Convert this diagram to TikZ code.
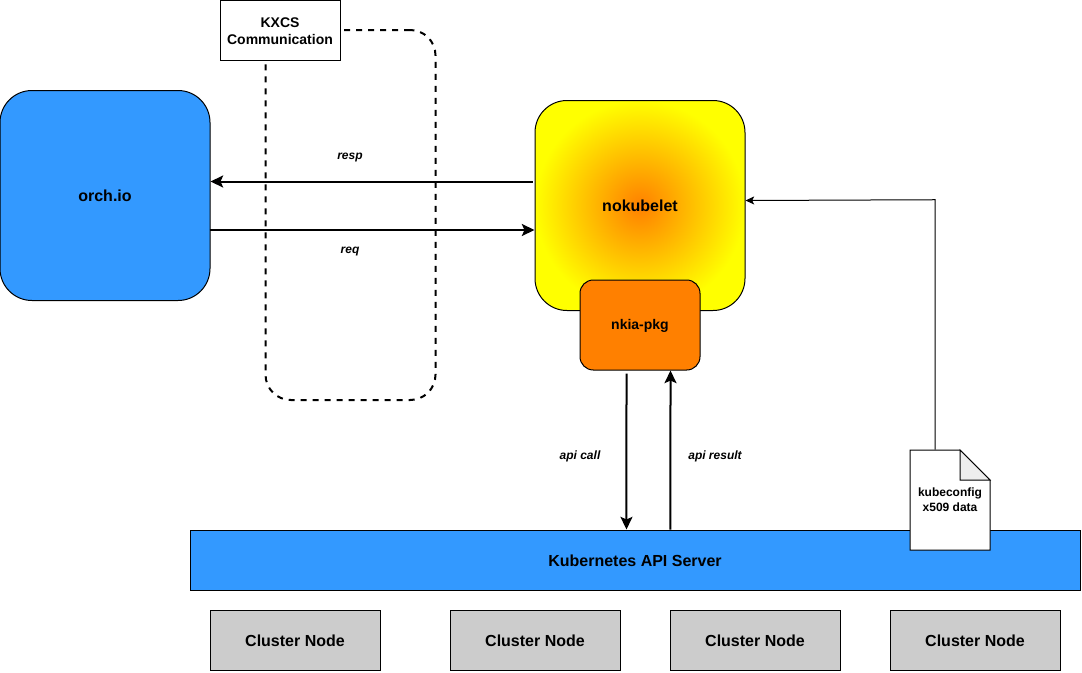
\documentclass[tikz,border=0pt]{standalone}
\usepackage{fontspec}
\setmainfont{Liberation Sans}
\usetikzlibrary{arrows.meta}

\definecolor{boxblue}{HTML}{3399FF}
\definecolor{pkgorange}{HTML}{FF8000}
\definecolor{nodegrey}{HTML}{CCCCCC}
\definecolor{foldgrey}{HTML}{EEEEEE}

\newcommand{\drop}[1]{\raisebox{-0.75pt}[\height][\depth]{#1}}

\tikzset{
    box/.style={draw, line width=0.75pt, inner sep=0pt, align=center, font=\bfseries},
    flow/.style={line width=1.5pt, -{Stealth[length=9.5pt, width=9pt, inset=2pt]}},
    lbl/.style={font=\bfseries\itshape\fontsize{9}{11}\selectfont, inner sep=0pt}
}

\begin{document}
\begin{tikzpicture}[x=0.75pt, y=-0.75pt]
    \useasboundingbox (0, 0) rectangle (1082, 672);

    \node[draw, line width=1.5pt, dash pattern=on 4.5pt off 4.5pt, rounded corners=19pt,
        minimum width=127.5pt, minimum height=277.5pt] (area) at (350.5, 215) {};

    \node[box, fill=boxblue, rounded corners=24pt, minimum width=157.5pt, minimum height=157.5pt] (orch) at (105, 195.5) {\fontsize{12}{14}\selectfont orch.io};
    \node[box, rounded corners=24pt, shading=radial, inner color=pkgorange, outer color=yellow,
        minimum width=157.5pt, minimum height=157.5pt] (nokubelet) at (640, 205.5) {\fontsize{12}{14}\selectfont nokubelet};
    \node[box, fill=pkgorange, rounded corners=10pt, minimum width=90pt, minimum height=67.5pt,
        font=\bfseries\fontsize{10.5}{12}\selectfont] (pkg) at (640, 325) {\drop{nkia-pkg}};
    \node[box, fill=white, minimum width=90pt, minimum height=45pt,
        font=\bfseries\fontsize{10.5}{12.75}\selectfont] (kxcs) at (280, 30) {\drop{KXCS}\\\drop{Communication}};

    \node[box, fill=boxblue, minimum width=667.5pt, minimum height=45pt] (api) at (635, 560) {\fontsize{12}{14}\selectfont\drop{Kubernetes API Server}};

    \foreach \i/\x in {1/295, 2/535, 3/755, 4/975} {
        \node[box, fill=nodegrey, minimum width=127.5pt, minimum height=45pt] (cluster\i) at (\x, 640) {\fontsize{12}{14}\selectfont\drop{Cluster Node}};
    }

    \draw[line width=0.75pt, fill=white] (910, 450) -- (960, 450) -- (990, 480) -- (990, 550) -- (910, 550) -- cycle;
    \draw[line width=0.75pt, fill=foldgrey] (960, 450) -- (960, 480) -- (990, 480) -- cycle;
    \node[inner sep=0pt, align=center, minimum width=60pt, minimum height=75pt,
        font=\bfseries\fontsize{9}{11.25}\selectfont] (kubeconfig) at (950, 500) {kubeconfig\\x509 data};

    \draw[flow] ([shift={(-2, -24)}]nokubelet.west) -- ([shift={(0, -14)}]orch.east);
    \draw[flow] ([shift={(-1, 34.5)}]orch.east) -- ([shift={(0, 24.5)}]nokubelet.west);
    \draw[flow] ([shift={(-13.5, 3)}]pkg.south) -- ([xshift=-6.4pt]api.north);
    \draw[flow] ([xshift=26.6pt]api.north) -- ([shift={(30.5, 0)}]pkg.south);
    \draw[line width=0.75pt, -{Stealth[length=6.5pt, width=6pt, inset=1.5pt]}] ([xshift=-11.25pt]kubeconfig.north) -- ++(0, -250) -- ([yshift=3.75pt]nokubelet.east);

    \node[lbl] (resp) at (350, 158) {resp};
    \node[lbl] (req) at (350, 252) {req};
    \node[lbl] (call) at (580, 456.5) {api call};
    \node[lbl] (result) at (715, 456.5) {api result};
\end{tikzpicture}
\end{document}
